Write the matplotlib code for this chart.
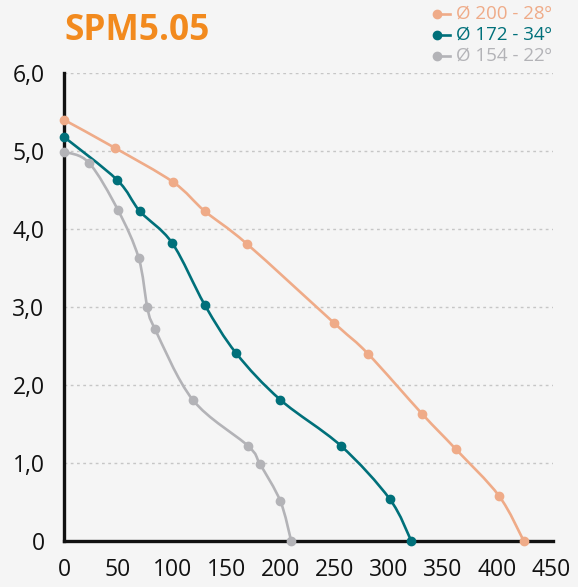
import numpy as np
import matplotlib
matplotlib.use("Agg")
import matplotlib.pyplot as plt
from matplotlib.path import Path
from matplotlib.patches import PathPatch
from matplotlib.lines import Line2D

plt.rcParams['font.family'] = ['Open Sans', 'DejaVu Sans']

# values
labels = ['Ø 200 - 28º', 'Ø 172 - 34º', 'Ø 154 - 22º']
colors = ['#efab88', '#00707a', '#b3b3b7']

x_200 = [0, 47, 101, 130, 169, 250, 281, 331, 362, 402, 425]
y_200 = [5.40, 5.04, 4.60, 4.23, 3.81, 2.79, 2.40, 1.63, 1.18, 0.58, 0.0]

x_172 = [0, 49, 70, 100, 130, 159, 200, 256, 301, 321]
y_172 = [5.18, 4.63, 4.23, 3.82, 3.03, 2.41, 1.81, 1.22, 0.54, 0.0]

x_154 = [0, 23, 50, 69, 77, 84, 119, 170, 181, 200, 210]
y_154 = [4.99, 4.85, 4.24, 3.63, 3.00, 2.72, 1.81, 1.22, 0.99, 0.51, 0.0]

series = [(x_200, y_200), (x_172, y_172), (x_154, y_154)]

xticks = [0, 50, 100, 150, 200, 250, 300, 350, 400, 450]
yticks = [0, 1, 2, 3, 4, 5, 6]
ytick_labels = ['0', '1,0', '2,0', '3,0', '4,0', '5,0', '6,0']


def smooth_path(xs, ys):
    # catmull-rom curve through the points, as bezier segments
    pts = np.column_stack([xs, ys]).astype(float)
    n = len(pts)
    verts = [pts[0]]
    codes = [Path.MOVETO]
    for i in range(n - 1):
        p0 = pts[max(i - 1, 0)]
        p1 = pts[i]
        p2 = pts[i + 1]
        p3 = pts[min(i + 2, n - 1)]
        verts += [p1 + (p2 - p0) / 6, p2 - (p3 - p1) / 6, p2]
        codes += [Path.CURVE4] * 3
    return Path(verts, codes)


bg = '#f5f5f5'
fig = plt.figure(figsize=(5.78, 5.87), dpi=100, facecolor=bg)
ax = fig.add_axes([64 / 578, 1 - 541 / 587, 489 / 578, 468 / 587])
ax.set_facecolor(bg)

for (xs, ys), c in zip(series, colors):
    ax.add_patch(PathPatch(smooth_path(xs, ys), fill=False, edgecolor=c,
                           lw=1.9, zorder=3, clip_on=False))
    ax.plot(xs, ys, 'o', color=c, markersize=6, zorder=4, clip_on=False)

ax.set_xlim(0, 452)
ax.set_ylim(0, 6)
ax.set_xticks(xticks)
ax.set_yticks(yticks)
ax.set_yticklabels(ytick_labels)
ax.tick_params(length=0, labelsize=16.5, colors='#111111', pad=14)
ax.tick_params(axis='x', pad=12)

for y in yticks[1:]:
    ax.axhline(y, color='#c6c6c6', lw=1, ls=(0, (2, 2.5)), zorder=1)

for s in ['top', 'right']:
    ax.spines[s].set_visible(False)
for s in ['left', 'bottom']:
    ax.spines[s].set_linewidth(2.4)
    ax.spines[s].set_color('#111111')
    ax.spines[s].set_zorder(2)

fig.text(64 / 578, 1 - 31 / 587, 'SPM5.05', color='#f28a1e', fontsize=25.5,
         fontweight='bold', va='center', ha='left')

# legend, marker at the left end of a short line
for i, (lab, c) in enumerate(zip(labels, colors)):
    yy = 1 - (14 + 21 * i) / 587
    fig.add_artist(Line2D([437 / 578, 450 / 578], [yy, yy], color=c, lw=1.9,
                          marker='o', markersize=6, markevery=[0]))
    fig.text(456 / 578, yy, lab, color=c, fontsize=13.5, va='center', ha='left')

fig.savefig('out.png', dpi=100, facecolor=bg)
